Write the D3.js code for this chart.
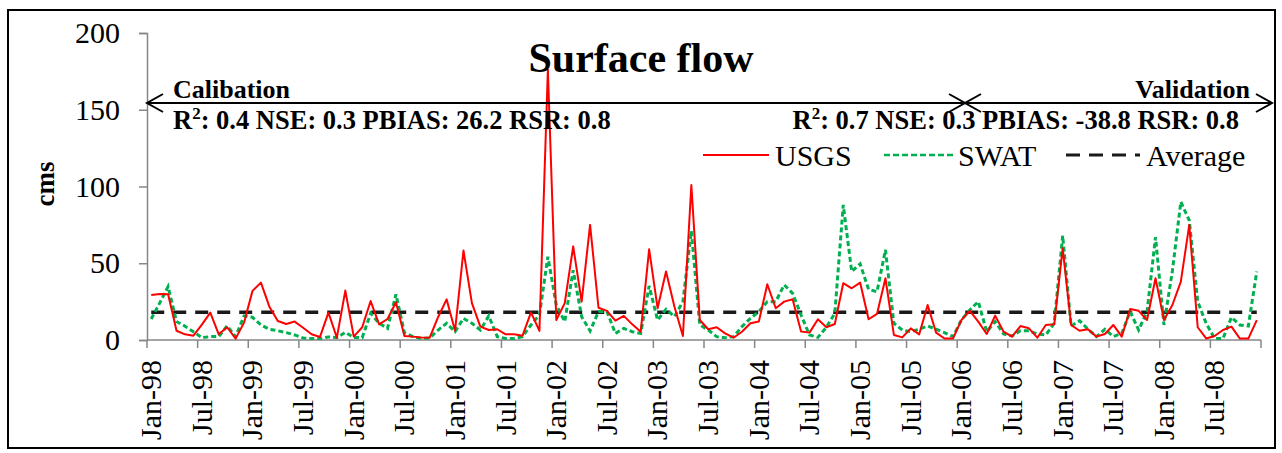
<!DOCTYPE html>
<html>
<head>
<meta charset="utf-8">
<script src="https://cdn.jsdelivr.net/npm/d3@7"></script>
<style>
  html, body { margin: 0; padding: 0; background: #fff; }
  svg { display: block; }
  text { font-family: "Liberation Serif", "Times New Roman", serif; fill: #000; }
</style>
</head>
<body>
<script>
// ---------- data ----------
const years = ["98","99","00","01","02","03","04","05","06","07","08"];
const monthNames = ["Jan","Feb","Mar","Apr","May","Jun","Jul","Aug","Sep","Oct","Nov","Dec"];
const categories = [];
years.forEach(yy => monthNames.forEach(m => categories.push(m + "-" + yy)));

const tickLabels = ["Jan-98","Jul-98","Jan-99","Jul-99","Jan-00","Jul-00","Jan-01","Jul-01",
  "Jan-02","Jul-02","Jan-03","Jul-03","Jan-04","Jul-04","Jan-05","Jul-05","Jan-06","Jul-06",
  "Jan-07","Jul-07","Jan-08","Jul-08"];

const usgs = [
  29.3, 30, 29.8, 6, 3.7, 2.8, 10, 17.8, 3.7, 8.3, 0.9, 11.3,
  32, 37.4, 21.7, 12.4, 10.4, 12, 8, 3.7, 2, 17.8, 1.5, 32.2,
  2.2, 8.3, 25.4, 10.2, 13.7, 24.6, 2.6, 2.2, 1.7, 1.5, 15, 26.5,
  6, 58.3, 24, 8.7, 6.5, 7, 3.7, 3.7, 2.8, 18, 5.9, 176,
  13, 24, 61, 25, 75, 21, 19, 12.6, 15.7, 10.2, 5.4, 59.1,
  20.7, 44.6, 21.7, 2.6, 101, 13, 7, 8.3, 4.3, 1.5, 5.4, 10.9,
  12, 36.3, 20.7, 25, 26.5, 5.5, 4.8, 13.5, 8.3, 10.4, 37, 33.7,
  37.4, 13.5, 17, 40.2, 3.3, 1.7, 7.6, 3.7, 22.8, 4.8, 1, 1,
  13, 19, 12, 3.9, 15.9, 5.4, 2.2, 9.1, 7.6, 1.5, 9.8, 10.2,
  59.8, 9.8, 6, 7, 2.2, 3.9, 9.8, 2.2, 20.2, 19, 13, 40.2,
  13, 22.8, 38, 75, 8.3, 1, 2.6, 6.5, 8.7, 0.9, 0.9, 13
];

const swat = [
  13.7, 24, 34.8, 12, 9, 5.4, 1.5, 2.2, 2.2, 9.3, 2.2, 15.7,
  14.8, 9.8, 7, 6, 4.8, 3.3, 1.3, 0.9, 0.9, 2, 1.5, 5,
  1.7, 1.5, 17.4, 10.9, 7.6, 29.8, 4.8, 2.2, 1, 1.3, 6.5, 10.9,
  5.4, 14.1, 10.9, 6.5, 15.7, 2.2, 1, 1, 2.2, 9.8, 16.3, 54.3,
  22.8, 12, 45.5, 15.2, 5.9, 18.5, 18.5, 4.3, 7.6, 5.4, 4.3, 35.2,
  13, 20, 15.2, 25, 71, 9.8, 6.5, 2.2, 1.5, 2.2, 8.7, 14.1,
  18.5, 25, 25, 35.9, 30.4, 16.3, 3.3, 1.7, 8.3, 17.4, 88, 44.6,
  49.6, 33, 31.5, 58.7, 10.9, 6.5, 5.4, 7, 9.1, 7, 4.8, 2.2,
  13, 19.6, 25, 5.4, 12, 3.9, 2.6, 6, 6, 3.9, 3.3, 10.9,
  68, 9.1, 12.6, 7, 2.2, 7, 2.2, 4.3, 18.5, 6.5, 18.5, 67,
  9.8, 45, 90, 78, 25, 10.9, 1, 1, 14.8, 9.8, 9.1, 44.6
];

const averageValue = 18.1;
const yTicks = [0, 50, 100, 150, 200];
const seriesNames = ["USGS", "SWAT", "Average"];
const calibStats = ["2", ": 0.4 NSE: 0.3 PBIAS: 26.2 RSR: 0.8"];
const validStats = ["2", ": 0.7 NSE: 0.3 PBIAS: -38.8 RSR: 0.8"];

// ---------- drawing ----------
const W = 1282, H = 453;
const svg = d3.select("body").append("svg").attr("width", W).attr("height", H);

// outer frame
svg.append("rect").attr("x", 8).attr("y", 10).attr("width", 1267).attr("height", 438)
  .attr("fill", "#fff").attr("stroke", "#000").attr("stroke-width", 2);

const x = d3.scaleBand().domain(categories).range([147, 1261]).padding(0);
const cx = c => x(c) + x.bandwidth() / 2;
const y = d3.scaleLinear().domain([0, 200]).range([340, 33]);
const axisColor = "#868686";

// y axis
const yAxis = svg.append("g").attr("transform", "translate(147,0)")
  .call(d3.axisLeft(y).tickValues(yTicks).tickSize(8).tickPadding(19));
yAxis.select(".domain").attr("stroke", axisColor).attr("stroke-width", 1.5);
yAxis.selectAll(".tick line").attr("stroke", axisColor).attr("stroke-width", 1.5);
yAxis.selectAll(".tick text").attr("font-size", 30).attr("font-family", "Liberation Serif").attr("fill", "#000");

// x axis line and ticks at every 6th category boundary
const xg = svg.append("g");
xg.append("line").attr("x1", x.range()[0]).attr("x2", x.range()[1]).attr("y1", y(0)).attr("y2", y(0))
  .attr("stroke", axisColor).attr("stroke-width", 1.5);
const boundaries = categories.filter((c, i) => i % 6 === 0).map(c => x(c)).concat([x.range()[1]]);
xg.selectAll(".xt").data(boundaries).join("line")
  .attr("x1", d => d).attr("x2", d => d).attr("y1", y(0)).attr("y2", y(0) + 8)
  .attr("stroke", axisColor).attr("stroke-width", 1.5);
xg.selectAll(".xl").data(tickLabels).join("text")
  .attr("transform", d => `translate(${cx(d)},360) rotate(-90)`)
  .attr("text-anchor", "end").attr("dy", "0.33em")
  .attr("font-size", 30).text(d => d);

// y label
svg.append("text").attr("transform", "translate(45,184) rotate(-90)")
  .attr("text-anchor", "middle").attr("dy", "0.33em")
  .attr("font-size", 27).attr("font-weight", "bold").text("cms");

// average line
svg.append("line")
  .attr("x1", cx(categories[0])).attr("x2", cx(categories[categories.length - 1]))
  .attr("y1", y(averageValue)).attr("y2", y(averageValue))
  .attr("stroke", "#1a1a1a").attr("stroke-width", 3.5).attr("stroke-dasharray", "13,9");

// series lines
const line = d3.line().x((d, i) => cx(categories[i])).y(d => y(d));
svg.append("path").datum(swat).attr("d", line).attr("fill", "none")
  .attr("stroke", "#00B050").attr("stroke-width", 3).attr("stroke-dasharray", "5,3");
svg.append("path").datum(usgs).attr("d", line).attr("fill", "none")
  .attr("stroke", "#FF0000").attr("stroke-width", 2).attr("stroke-linejoin", "round");

// title
svg.append("text").attr("x", 641).attr("y", 72).attr("text-anchor", "middle")
  .attr("font-size", 42).attr("font-weight", "bold").text("Surface flow");

// period arrows
const ay = 103;
const xStart = 147, xSplit = 965, xEnd = 1272;
function arrowHead(g, xt, dir) {
  g.append("path").attr("d", `M${xt + dir * 16},${ay - 9} L${xt},${ay} L${xt + dir * 16},${ay + 9}`)
    .attr("fill", "none").attr("stroke", "#000").attr("stroke-width", 2);
}
const arr = svg.append("g");
arr.append("line").attr("x1", xStart).attr("x2", xEnd).attr("y1", ay).attr("y2", ay)
  .attr("stroke", "#000").attr("stroke-width", 2);
arrowHead(arr, xStart, 1);
arrowHead(arr, xSplit, -1);
arrowHead(arr, xSplit, 1);
arrowHead(arr, xEnd, -1);

svg.append("text").attr("x", 173).attr("y", 98).attr("font-size", 26).attr("font-weight", "bold").text("Calibation");
svg.append("text").attr("x", 1250).attr("y", 98).attr("text-anchor", "end").attr("font-size", 26).attr("font-weight", "bold").text("Validation");

function statText(xp, anchor, parts) {
  const t = svg.append("text").attr("x", xp).attr("y", 129).attr("text-anchor", anchor)
    .attr("font-size", 26.5).attr("font-weight", "bold");
  t.append("tspan").text("R");
  t.append("tspan").attr("dy", -10).attr("font-size", 17).text(parts[0]);
  t.append("tspan").attr("dy", 10).text(parts[1]);
}
statText(173, "start", calibStats);
statText(1239, "end", validStats);

// legend
const lg = svg.append("g");
const ly = 155;
const lty = 166;
lg.append("line").attr("x1", 703).attr("x2", 769).attr("y1", ly).attr("y2", ly)
  .attr("stroke", "#FF0000").attr("stroke-width", 2);
lg.append("text").attr("x", 775).attr("y", lty).attr("font-size", 30).text(seriesNames[0]);
lg.append("line").attr("x1", 884).attr("x2", 953).attr("y1", ly).attr("y2", ly)
  .attr("stroke", "#00B050").attr("stroke-width", 2.5).attr("stroke-dasharray", "6,3");
lg.append("text").attr("x", 958).attr("y", lty).attr("font-size", 30).text(seriesNames[1]);
lg.append("line").attr("x1", 1066).attr("x2", 1140).attr("y1", ly).attr("y2", ly)
  .attr("stroke", "#1a1a1a").attr("stroke-width", 3).attr("stroke-dasharray", "14,9");
lg.append("text").attr("x", 1146).attr("y", lty).attr("font-size", 30).text(seriesNames[2]);
</script>
</body>
</html>
